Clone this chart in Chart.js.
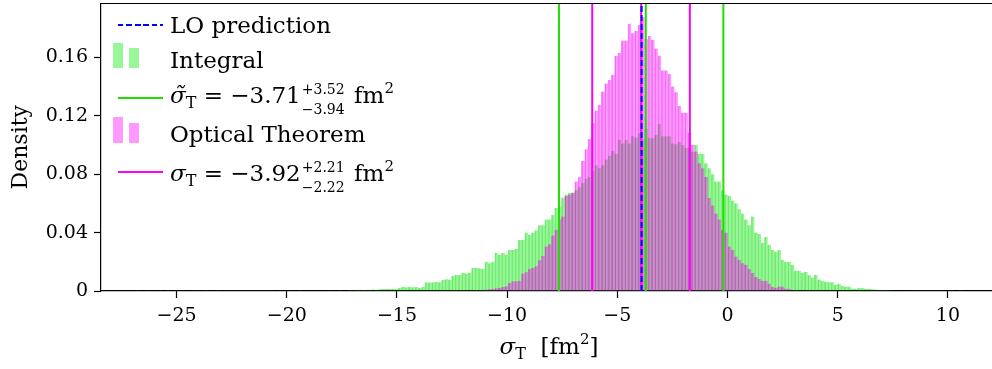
<!DOCTYPE html>
<html>
<head>
<meta charset="utf-8">
<script src="https://cdn.jsdelivr.net/npm/chart.js"></script>
<style>
html,body{margin:0;padding:0;background:#fff;}
#wrap{position:relative;width:992px;height:369px;overflow:hidden;}
#chart{position:absolute;left:0;top:0;}
.txt{position:absolute;font-family:"DejaVu Serif",serif;font-size:23px;line-height:23px;color:#000;white-space:nowrap;}
.m{font-style:italic;}
.sb{font-size:16px;position:relative;top:5px;}
.sp{font-size:15px;position:relative;top:-10px;}
.ss{display:inline-block;position:relative;width:46px;height:0;}
.ss span{position:absolute;left:1px;font-size:14px;line-height:14px;}
.ss .up{bottom:7px;}
.ss .dn{bottom:-13px;}
.smp{position:absolute;}
</style>
</head>
<body>
<div id="wrap">
<canvas id="chart" width="992" height="369"></canvas>

<div class="smp" style="left:118px;top:24px;width:45px;height:2px;background:repeating-linear-gradient(90deg,#0000ff 0 5.5px,transparent 5.5px 8.5px);"></div>
<div class="txt" style="left:170px;top:14px;">LO prediction</div>

<div class="smp" style="left:113px;top:43px;width:10px;height:25px;background:rgba(0,235,0,0.4);"></div>
<div class="smp" style="left:129px;top:48px;width:10px;height:20px;background:rgba(0,235,0,0.4);"></div>
<div class="txt" style="left:170px;top:49px;">Integral</div>

<div class="smp" style="left:118px;top:97px;width:45px;height:2px;background:#22dd00;"></div>
<div class="txt" style="left:170px;top:84px;"><span class="m">σ̃</span><span class="sb">T</span> = −3.71<span class="ss"><span class="up">+3.52</span><span class="dn">−3.94</span></span> fm<span class="sp">2</span></div>

<div class="smp" style="left:113px;top:117px;width:10px;height:26px;background:rgba(255,0,255,0.4);"></div>
<div class="smp" style="left:129px;top:123px;width:10px;height:20px;background:rgba(255,0,255,0.4);"></div>
<div class="txt" style="left:170px;top:123px;">Optical Theorem</div>

<div class="smp" style="left:118px;top:171px;width:45px;height:2px;background:#ff00ff;"></div>
<div class="txt" style="left:170px;top:162px;"><span class="m">σ</span><span class="sb">T</span> = −3.92<span class="ss"><span class="up">+2.21</span><span class="dn">−2.22</span></span> fm<span class="sp">2</span></div>

<div class="txt" style="left:549px;top:335px;transform:translateX(-50%);"><span class="m">σ</span><span class="sb">T</span>&nbsp; [fm<span class="sp">2</span>]</div>
</div>

<script>
// histogram bins (same grid for both samples)
const binWidth = 0.151;
const binStart = -26.791;   // centre of first bin

const integralDensity = [
  0.0001,0,0,0.0001,0,0,0,0.0001,0,0.0001,
  0,0,0.0001,0,0.0001,0,0,0.0001,0.0001,0,
  0.0001,0.0001,0,0.0001,0.0001,0.0001,0,0.0001,0.0001,0.0001,
  0.0001,0.0002,0.0001,0.0001,0.0002,0.0001,0.0002,0.0002,0.0001,0.0002,
  0.0002,0.0002,0.0003,0.0002,0.0002,0.0003,0.0002,0.0003,0.0003,0.0002,
  0.0003,0.0003,0.0004,0.0003,0.0003,0.0004,0.0003,0.0004,0.0005,0.0004,
  0.0004,0.0005,0.0004,
  0.0004,0.0006,0.0005,0.0006,0.0008,0.0007,0.0009,0.0008,0.0011,0.0009,
  0.0012,0.0013,0.0015,0.0014,0.0016,0.0015,0.0022,0.0027,0.0025,0.0027,
  0.0026,0.0027,0.002,0.0028,0.006,0.0058,0.006,0.0062,0.006,0.0075,
  0.008,0.0078,0.0105,0.011,0.011,0.0125,0.012,0.0125,0.0157,0.016,
  0.0155,0.015,0.020,0.019,0.020,0.026,0.025,0.026,
  0.025,0.028,0.028,0.029,0.035,0.035,0.040,0.0385,0.040,0.0415,
  0.045,0.045,0.049,0.049,0.052,0.057,0.058,0.064,0.066,0.067,
  0.0675,0.069,0.071,0.074,0.077,0.078,0.0825,0.086,0.084,0.086,
  0.090,0.0925,0.096,0.094,0.1035,0.101,0.1035,
  0.101,0.106,0.105,0.108,0.104,0.111,0.105,0.1045,0.107,0.1145,
  0.106,0.106,0.106,0.101,0.1005,0.102,0.100,0.098,0.098,0.0955,
  0.100,0.094,0.094,0.0875,0.084,0.080,0.075,0.075,0.069,0.066,
  0.065,0.062,0.060,0.056,0.053,0.049,
  0.045,0.051,0.040,0.039,0.033,0.037,0.0317,0.028,0.027,0.028,
  0.0214,0.020,0.020,0.018,0.0139,0.0139,0.0125,0.013,0.0107,0.0093,
  0.011,0.0078,0.007,0.0064,0.006,0.006,0.0043,0.005,0.0036,0.003,
  0.003,0.0016,0.0016,0.0023,0.002,0.0015,
  0.0015,0.0012,0.001,0.0008,0.0007,0.0006,0.0005,0.0005,0.0003,0.0004,
  0.0003,0.0002,0.0003,0.0002,0.0002,0.0001,0.0002,0.0001,0.0001,0.0002,
  0.0001,0.0001,0.0001,0,0.0001,0.0001,0,0.0001,0.0001
];

const opticalFirstBin = 95;
const opticalDensity = [
  0.0001,0.0001,0.0002,0.0001,0.0003,0.0003,0.0004,0.0006,0.0005,0.0008,
  0.001,0.0012,0.0014,0.0018,0.002,0.0027,
  0.0032,0.0055,0.0066,0.0066,0.007,0.012,0.0128,0.015,0.016,0.017,
  0.021,0.024,0.0305,0.032,0.038,0.042,0.049,0.051,0.065,0.066,
  0.067,0.075,0.078,0.089,0.097,0.104,0.115,0.1235,0.1275,0.1365,
  0.142,0.1445,0.148,0.161,0.163,0.1715,0.1715,
  0.183,0.1765,0.178,0.182,0.1875,0.1724,0.1745,0.172,0.166,0.161,
  0.151,0.151,0.1485,0.140,0.136,0.1267,0.122,0.122,0.1085,0.100,
  0.0955,0.0875,0.084,0.078,0.0636,0.0586,0.053,0.049,0.042,0.040,
  0.0305,0.028,0.0237,0.0214,0.019,0.018,
  0.015,0.0123,0.0096,0.0082,0.007,0.007,0.005,0.0027,0.0023,0.003,
  0.003,0.0016,0.0016,0.0005,0.0006,0.0003,0.0004,0.0002,0.0002,0.0001,0.0001
];

const integralBand = [-7.65, -3.71, -0.19];
const opticalBand = [-6.14, -3.92, -1.71];
const loPrediction = -3.90;

const xTickValues = [-25,-20,-15,-10,-5,0,5,10];
const yTickValues = [0,0.04,0.08,0.12,0.16];
const xRange = [-28.43, 12.0];
const yRange = [0, 0.1968];

const toBars = (vals, first) => vals.map((d, i) => ({x: binStart + (first + i) * binWidth, y: d}));

const vline = (x, color, order, dash) => ({
  type: 'line',
  data: [{x: x, y: yRange[0]}, {x: x, y: yRange[1]}],
  borderColor: color,
  borderWidth: 2,
  borderDash: dash || [],
  pointRadius: 0,
  order: order
});

const serif = 'DejaVu Serif';
const minus = v => v < 0 ? '\u2212' + Math.abs(v) : '' + v;

const topSpine = {
  id: 'topSpine',
  afterDraw(c) {
    const a = c.chartArea, g = c.ctx;
    g.save();
    g.strokeStyle = '#000';
    g.lineWidth = 1.2;
    g.beginPath();
    g.moveTo(a.left, a.top);
    g.lineTo(a.right, a.top);
    g.stroke();
    g.restore();
  }
};

const axisGrid = {display: true, offset: false, drawOnChartArea: false, drawTicks: true, tickLength: 7, tickColor: '#000', tickWidth: 1.2};
const axisBorder = {display: true, color: '#000', width: 1.2};

new Chart(document.getElementById('chart'), {
  type: 'bar',
  data: {
    datasets: [
      vline(loPrediction, '#0000ff', 0, [6, 3]),
      ...integralBand.map(x => vline(x, '#22dd00', 1)),
      ...opticalBand.map(x => vline(x, '#ff00ff', 2)),
      {
        label: 'Optical Theorem',
        data: toBars(opticalDensity, opticalFirstBin),
        backgroundColor: 'rgba(255,0,255,0.4)',
        borderColor: 'rgba(230,0,230,0.45)',
        borderWidth: {left: 1, right: 0, top: 0, bottom: 0},
        grouped: false,
        barPercentage: 1,
        categoryPercentage: 1,
        order: 3
      },
      {
        label: 'Integral',
        data: toBars(integralDensity, 0),
        backgroundColor: 'rgba(0,235,0,0.4)',
        borderColor: 'rgba(0,210,0,0.45)',
        borderWidth: {left: 1, right: 0, top: 0, bottom: 0},
        grouped: false,
        barPercentage: 1,
        categoryPercentage: 1,
        order: 4
      }
    ]
  },
  options: {
    responsive: false,
    animation: false,
    events: [],
    layout: {padding: {top: 3.5, right: 0, left: 0, bottom: 0}},
    plugins: {legend: {display: false}, tooltip: {enabled: false}},
    scales: {
      x: {
        type: 'linear',
        min: xRange[0],
        max: xRange[1],
        offset: false,
        z: 1,
        grid: axisGrid,
        border: axisBorder,
        ticks: {color: '#000', font: {family: serif, size: 19}, padding: 7, maxRotation: 0, autoSkip: false, callback: minus},
        afterBuildTicks: s => { s.ticks = xTickValues.map(v => ({value: v})); },
        afterFit: s => { s.height = 78; s.paddingLeft = 0; s.paddingRight = 0; }
      },
      y: {
        min: yRange[0],
        max: yRange[1],
        z: 1,
        grid: axisGrid,
        border: axisBorder,
        ticks: {color: '#000', font: {family: serif, size: 19}, padding: 6, callback: v => v === 0 ? '0' : v.toFixed(2)},
        afterBuildTicks: s => { s.ticks = yTickValues.map(v => ({value: v})); },
        afterFit: s => { s.width = 101; s.paddingTop = 0; s.paddingBottom = 0; },
        title: {display: true, text: 'Density', color: '#000', font: {family: serif, size: 22}, padding: {top: 8, bottom: 0}}
      }
    }
  },
  plugins: [topSpine]
});
</script>
</body>
</html>
